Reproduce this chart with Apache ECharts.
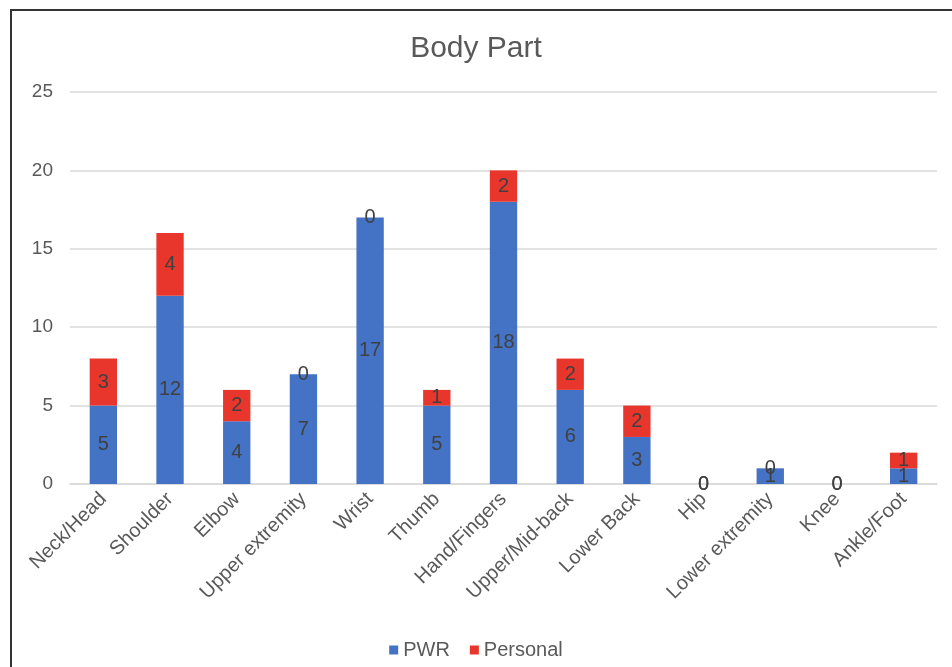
<!DOCTYPE html>
<html>
<head>
<meta charset="utf-8">
<script src="https://cdn.jsdelivr.net/npm/echarts@6/dist/echarts.min.js"></script>
<style>
  html, body { margin: 0; padding: 0; background: #fff; }
  #chart { width: 952px; height: 667px; }
</style>
</head>
<body>
<div id="chart"></div>
<script>
// Injury counts by body part, split into work-related (PWR) and personal
const categories = ['Neck/Head', 'Shoulder', 'Elbow', 'Upper extremity', 'Wrist', 'Thumb',
  'Hand/Fingers', 'Upper/Mid-back', 'Lower Back', 'Hip', 'Lower extremity', 'Knee', 'Ankle/Foot'];
const pwrValues = [5, 12, 4, 7, 17, 5, 18, 6, 3, 0, 1, 0, 1];
const personalValues = [3, 4, 2, 0, 0, 1, 2, 2, 2, 0, 0, 0, 1];
const yTicks = [0, 5, 10, 15, 20, 25];

const FONT = 'Liberation Sans, Arial, sans-serif';
const chart = echarts.init(document.getElementById('chart'));

const labelStyle = {
  show: true,
  position: 'inside',
  color: '#404040',
  fontSize: 20,
  fontFamily: FONT
};

chart.setOption({
  animation: false,
  backgroundColor: '#fff',
  title: {
    text: 'Body Part',
    left: 'center',
    top: 29,
    textStyle: { color: '#595959', fontSize: 30, fontWeight: 'normal', fontFamily: FONT }
  },
  legend: {
    bottom: 2,
    left: 'center',
    itemWidth: 9,
    itemHeight: 9,
    itemGap: 20,
    icon: 'rect',
    textStyle: { color: '#595959', fontSize: 20, fontFamily: FONT },
    data: ['PWR', 'Personal']
  },
  grid: { left: 70, right: 15, top: 92, bottom: 183 },
  xAxis: {
    type: 'category',
    data: categories,
    axisLine: { lineStyle: { color: '#D9D9D9', width: 1.5 } },
    axisTick: { show: false },
    axisLabel: {
      rotate: 45,
      interval: 0,
      margin: 12,
      color: '#595959',
      fontSize: 20,
      fontFamily: FONT
    }
  },
  yAxis: {
    type: 'value',
    min: yTicks[0],
    max: yTicks[yTicks.length - 1],
    interval: 5,
    axisLine: { show: false },
    axisTick: { show: false },
    splitLine: { lineStyle: { color: '#D9D9D9', width: 1.5 } },
    axisLabel: {
      margin: 17,
      color: '#595959',
      fontSize: 19,
      fontFamily: FONT
    }
  },
  series: [
    {
      name: 'PWR',
      type: 'bar',
      stack: 'total',
      barWidth: '41%',
      data: pwrValues,
      itemStyle: { color: '#4472C4' },
      label: labelStyle
    },
    {
      name: 'Personal',
      type: 'bar',
      stack: 'total',
      barWidth: '41%',
      data: personalValues,
      itemStyle: { color: '#E8362C' },
      label: labelStyle
    }
  ],
  graphic: [
    {
      type: 'polyline',
      silent: true,
      shape: { points: [[11, 667], [11, 10], [952, 10]] },
      style: { stroke: '#333', lineWidth: 2, fill: null }
    }
  ]
});
</script>
</body>
</html>
